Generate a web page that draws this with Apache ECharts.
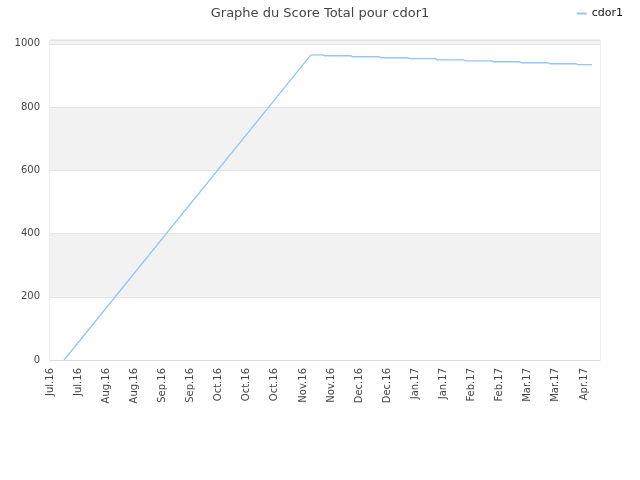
<!DOCTYPE html>
<html>
<head>
<meta charset="utf-8">
<script src="https://cdn.jsdelivr.net/npm/echarts@6/dist/echarts.min.js"></script>
<style>html,body{margin:0;padding:0;background:#fff}#c{width:640px;height:480px}</style>
</head>
<body>
<div id="c"></div>
<script>
// Axis: daily categories starting 2016-07-10
var startDate = [2016, 6, 10];
var dayCount = 275;
var monthNames = ['Jan','Feb','Mar','Apr','May','Jun','Jul','Aug','Sep','Oct','Nov','Dec'];
var labelEvery = 14;
// Series key points (day offset, score)
var scoreDays = [7, 130, 136, 137, 150, 151, 164, 165, 178, 179, 192, 193, 206, 207, 220, 221, 234, 235, 248, 249, 262, 263, 270];
var scoreValues = [0, 965, 965, 962, 962, 959, 959, 956, 956, 953, 953, 949, 949, 946, 946, 943, 943, 940, 940, 937, 937, 934, 934];
var yTicks = [0, 200, 400, 600, 800, 1000];

var categories = [];
for (var i = 0; i < dayCount; i++) {
  var d = new Date(startDate[0], startDate[1], startDate[2] + i);
  categories.push(monthNames[d.getMonth()] + '.' + String(d.getFullYear()).slice(2));
}
var seriesData = scoreDays.map(function (d, k) { return [d, scoreValues[k]]; });

var chart = echarts.init(document.getElementById('c'), null, {renderer: 'canvas'});
var font = 'DejaVu Sans';
chart.setOption({
  animation: false,
  backgroundColor: '#fff',
  title: {
    text: 'Graphe du Score Total pour cdor1',
    left: 'center', top: 2,
    textStyle: {fontFamily: font, fontSize: 13, fontWeight: 'normal', color: '#444'}
  },
  legend: {
    data: ['cdor1'], right: 12, top: 3,
    icon: 'rect', itemWidth: 10, itemHeight: 2, itemGap: 6,
    textStyle: {fontFamily: font, fontSize: 11, color: '#111'}
  },
  grid: {left: 50, right: 40, top: 40, bottom: 120, show: true, borderColor: '#ddd', borderWidth: 1},
  xAxis: {
    type: 'category', data: categories, boundaryGap: false,
    axisLine: {show: true, lineStyle: {color: '#ddd'}},
    axisTick: {show: false},
    splitLine: {show: false},
    axisLabel: {
      interval: function (idx) { return idx % labelEvery === 0; },
      rotate: 90, fontFamily: font, fontSize: 10, color: '#444', margin: 8
    }
  },
  yAxis: {
    type: 'value', min: 0, max: 1012, interval: 200,
    axisLine: {show: false}, axisTick: {show: false},
    axisLabel: {
      fontFamily: font, fontSize: 10, color: '#444', margin: 10,
      formatter: function (v) { return yTicks.indexOf(v) >= 0 ? String(v) : ''; }
    },
    splitLine: {show: true, lineStyle: {color: '#e2e2e2'}},
    splitArea: {show: true, areaStyle: {color: ['#ffffff', '#f2f2f2']}}
  },
  series: [{
    name: 'cdor1', type: 'line', data: seriesData,
    showSymbol: false, symbol: 'none',
    lineStyle: {color: '#94c6f7', width: 1.4},
    itemStyle: {color: '#94c6f7'}
  }]
});
</script>
</body>
</html>
